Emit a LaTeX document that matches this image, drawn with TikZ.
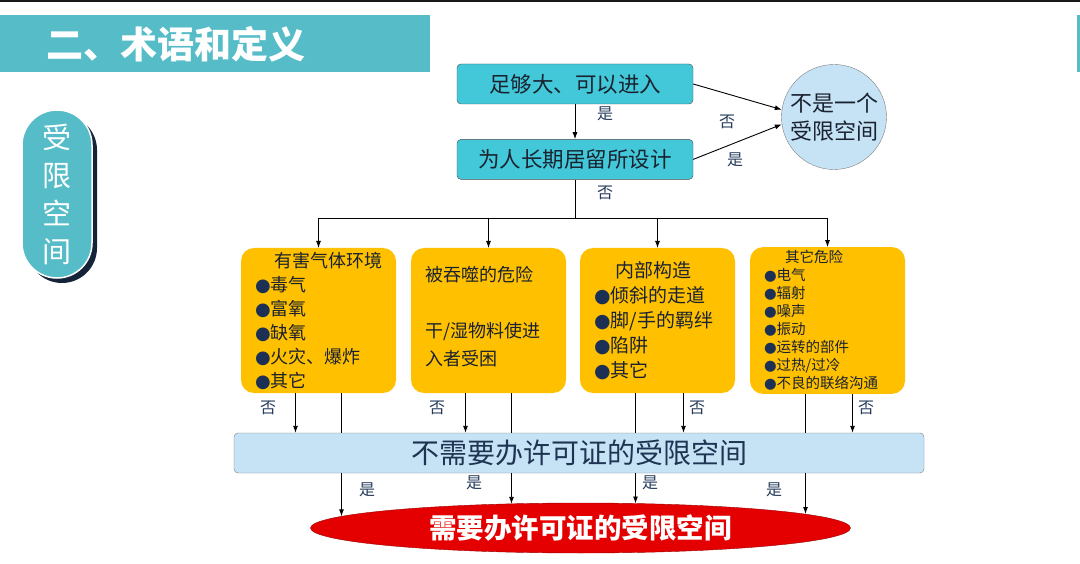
\documentclass[tikz,border=0pt]{standalone}
\usepackage{fontspec}
\setmainfont{Noto Sans CJK SC}
\newfontfamily\symfont{DejaVu Sans}
\usetikzlibrary{positioning,shapes.geometric,shadows,arrows.meta}
\definecolor{bannerteal}{RGB}{86,189,200}
\definecolor{askcyan}{RGB}{66,200,216}
\definecolor{paleblue}{RGB}{198,227,246}
\definecolor{riskamber}{RGB}{255,192,0}
\definecolor{permitred}{RGB}{228,0,0}
\definecolor{shadownavy}{RGB}{22,36,58}
\definecolor{inkdark}{RGB}{26,34,48}
\definecolor{inkdeep}{RGB}{30,52,82}
\definecolor{tagblue}{RGB}{38,60,92}
\definecolor{dotnavy}{RGB}{28,48,86}
\newcommand\dotb{{\symfont\textcolor{dotnavy}{●}}}
\begin{document}
\begin{tikzpicture}[x=1pt, y=-1pt,
  ask/.style={draw=gray!60!black, fill=askcyan, rounded corners=4pt, minimum width=236pt, minimum height=40pt, inner sep=0pt, font=\fontsize{21.5}{24}\selectfont, text=inkdark},
  notcs/.style={circle, draw=gray, fill=paleblue, minimum size=105pt, inner sep=0pt, align=center, font=\fontsize{22}{28}\selectfont, text=inkdark},
  risk/.style={fill=riskamber, rounded corners=13pt, minimum width=155pt, minimum height=145pt, inner xsep=0pt, outer sep=0pt, text width=127pt, align=left, text=inkdark},
  nopermit/.style={draw=gray, fill=paleblue, rounded corners=4pt, minimum width=690pt, minimum height=40pt, font=\fontsize{28}{30}\selectfont, text=inkdeep},
  permit/.style={ellipse, draw=red!60!black, fill=permitred, minimum width=540pt, minimum height=50pt, inner sep=0pt, text=white, font=\fontsize{27.5}{30}\selectfont\bfseries},
  pill/.style={fill=bannerteal, draw=white, line width=1.5pt, rounded corners=35pt, minimum width=70pt, minimum height=168pt, align=center, text=white, font=\fontsize{29}{38}\selectfont, drop shadow={shadow xshift=5pt, shadow yshift=-5pt, fill=shadownavy, opacity=1}},
  tag/.style={font=\fontsize{16}{18}\selectfont, text=tagblue, inner sep=0pt},
  flow/.style={line width=0.9pt, -{Latex[length=7pt,width=5pt]}},
  link/.style={line width=0.9pt}]
\useasboundingbox (0,0) rectangle (1080,564);
\fill[white] (0,0) rectangle (1080,564);
% page frame and heading
\draw[line width=2pt, gray!20!black] (0,1) -- (1080,1);
\fill[bannerteal] (0,15) rectangle (430,72);
\fill[bannerteal] (1077,15) rectangle (1080,72);
\node[anchor=west, text=white, inner sep=0pt, font=\fontsize{37}{40}\selectfont\bfseries] (title) at (46,44) {二、术语和定义};
\node[pill] (side) at (57,194) {受\\限\\空\\间};
% first questions
\node[ask] (q1) at (575,84) {足够大、可以进入};
\node[ask, below=35pt of q1] (q2) {为人长期居留所设计};
\node[notcs] (nc) at (834,117) {不是一个\\受限空间};
\draw[flow] (q1) -- (q2);
\draw[flow] (q1.east) -- (nc.172);
\draw[flow] (q2.east) -- (nc.188);
\node[tag] (t1) at (605,114) {是};
\node[tag] (t2) at (727,122) {否};
\node[tag] (t3) at (735,160) {是};
\node[tag] (t4) at (605,193) {否};
% hazards
\node[risk, font=\fontsize{18}{24}\selectfont] (A) at (318.5,320.5) {\hspace*{19pt}有害气体环境\\\dotb 毒气\\\dotb 富氧\\\dotb 缺氧\\\dotb 火灾、爆炸\\\dotb 其它};
\node[risk, right=15pt of A, font=\fontsize{18}{28}\selectfont] (B) {被吞噬的危险\\[28pt]干/湿物料使进\\入者受困\vspace*{8pt}};
\node[risk, right=14pt of B, font=\fontsize{19}{25}\selectfont] (C) {\hspace*{21pt}内部构造\\\dotb 倾斜的走道\\\dotb 脚/手的羁绊\\\dotb 陷阱\\\dotb 其它};
\node[risk, right=15pt of C, font=\fontsize{14.5}{18}\selectfont] (D) {\hspace*{21pt}其它危险\\\dotb 电气\\\dotb 辐射\\\dotb 噪声\\\dotb 振动\\\dotb 运转的部件\\\dotb 过热/过冷\\\dotb 不良的联络沟通};
\coordinate (bus) at (575,218);
\draw[link] (q2.south) -- (bus);
\draw[link] (bus -| A.north) -- (bus -| D.north);
\foreach \b in {A,B,C,D}
  \draw[flow] (bus -| \b.north) -- (\b.north);
% outcomes
\node[nopermit] (free) at (579,453) {不需要办许可证的受限空间};
\node[permit] (need) at (580.5,528) {需要办许可证的受限空间};
\coordinate (hitA) at (0,516.3);
\coordinate (hitB) at (0,503.8);
\coordinate (hitC) at (0,503.5);
\coordinate (hitD) at (0,514);
\foreach \b/\no/\yes in {A/-23/23, B/-23/23, C/26/-22, D/25/-22} {
  \draw[flow] ([xshift=\no pt]\b.south) -- ([xshift=\no pt]\b.south |- free.north);
  \draw[link] ([xshift=\yes pt]\b.south) -- ([xshift=\yes pt]\b.south |- free.north);
  \draw[flow] ([xshift=\yes pt]\b.south |- free.south) -- ([xshift=\yes pt]\b.south |- hit\b);
}
\node[tag] (nA) at (268,408) {否};
\node[tag] (nB) at (437,408) {否};
\node[tag] (nC) at (697,408) {否};
\node[tag] (nD) at (866,408) {否};
\node[tag] (yA) at (367,490) {是};
\node[tag] (yB) at (474,483) {是};
\node[tag] (yC) at (650,483) {是};
\node[tag] (yD) at (774,490) {是};
\end{tikzpicture}
\end{document}
